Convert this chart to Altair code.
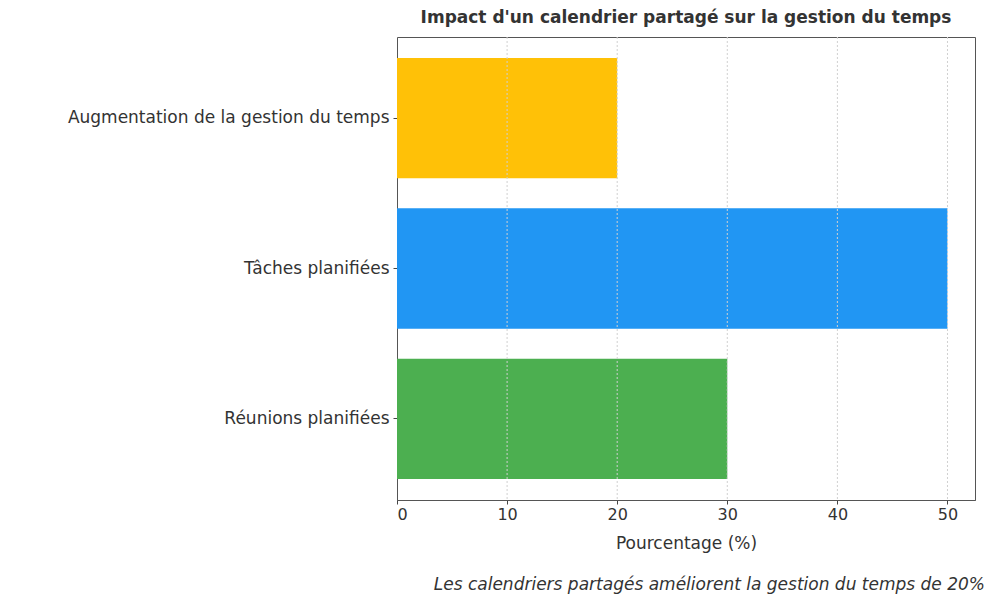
import altair as alt
import pandas as pd

categories = ["Augmentation de la gestion du temps", "Tâches planifiées", "Réunions planifiées"]
values = [20, 50, 30]
colors = ["#FFC107", "#2196F3", "#4CAF50"]
tick_values = [0, 10, 20, 30, 40, 50]
title_text = "Impact d'un calendrier partagé sur la gestion du temps"
x_title = "Pourcentage (%)"
caption = "Les calendriers partagés améliorent la gestion du temps de 20%"

df = pd.DataFrame({"cat": categories, "val": values, "color": colors})
grid_df = pd.DataFrame({"g": [v for v in tick_values if v > 0]})

FONT = "DejaVu Sans"
TXT = "#333333"
xscale = alt.Scale(domain=[0, 52.5], nice=False, zero=True)

bars = alt.Chart(df).mark_bar().encode(
    y=alt.Y("cat:N", sort=categories,
            scale=alt.Scale(paddingInner=0.2, paddingOuter=0.14),
            axis=alt.Axis(title=None, labelFont=FONT, labelFontSize=17, labelColor=TXT,
                          labelPadding=4, tickSize=4, tickColor="#444", domain=False,
                          labelLimit=500)),
    x=alt.X("val:Q", scale=xscale,
            axis=alt.Axis(title=x_title, values=tick_values, format="d",
                          labelFont=FONT, labelFontSize=16, labelColor=TXT,
                          titleFont=FONT, titleFontSize=17, titleColor=TXT, titleFontWeight="normal",
                          titlePadding=13, tickSize=4, tickColor="#444", domainColor="#555",
                          grid=False)),
    color=alt.Color("color:N", scale=None),
)

grid = alt.Chart(grid_df).mark_rule(color="#d0d0d0", strokeDash=[2, 2], strokeWidth=1).encode(
    x=alt.X("g:Q", scale=xscale)
)

cap = alt.Chart(pd.DataFrame({"t": [caption]})).mark_text(
    align="right", baseline="middle", font=FONT, fontSize=17, fontStyle="italic", color=TXT
).encode(text="t:N", x=alt.value(588), y=alt.value(548))

chart = alt.layer(bars, grid, cap).properties(
    width=578, height=463,
    title=alt.TitleParams(title_text, font=FONT, fontSize=17, fontWeight="bold", color=TXT,
                          anchor="middle", offset=10),
    autosize=alt.AutoSizeParams(type="none"),
    padding={"left": 389, "top": 29, "right": 20, "bottom": 100},
).configure(
    background="white",
    view=alt.ViewConfig(stroke="#555555", strokeWidth=1),
)

chart.save("out.html", embed_options={"renderer": "svg", "actions": False})
